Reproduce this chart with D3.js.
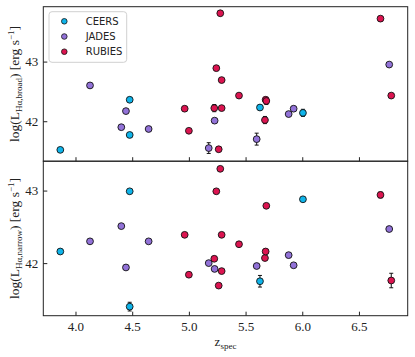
<!DOCTYPE html>
<html>
<head>
<meta charset="utf-8">
<script src="https://cdn.jsdelivr.net/npm/d3@7"></script>
<style>
  body { margin: 0; background: #fff; }
  .tick text { font-family: "Liberation Serif", serif; font-size: 13px; fill: #222; }
  .tick line { stroke: #222; }
</style>
</head>
<body>
<div id="my_dataviz"></div>
<script>
// données (z spectroscopique et log L_Halpha)
const surveys = ["CEERS", "JADES", "RUBIES"];
const colors = ["#0fb4ea", "#9272d8", "#dc1450"];

const ceersZ = [3.866, 4.478, 4.478, 5.627, 6.006];
const ceersBroad = [41.52, 42.36, 41.77, 42.23, 42.14];
const ceersBroadErr = [0.02, 0.03, 0.03, 0.04, 0.06];
const ceersNarrow = [42.16, 42.99, 41.40, 41.75, 42.88];
const ceersNarrowErr = [0.02, 0.02, 0.06, 0.08, 0.02];

const jadesZ = [4.128, 4.404, 4.445, 4.645, 5.175, 5.227, 5.598, 5.880, 5.924, 6.767];
const jadesBroad = [42.60, 41.90, 42.17, 41.87, 41.55, 42.01, 41.70, 42.12, 42.21, 42.95];
const jadesBroadErr = [0.02, 0.02, 0.02, 0.02, 0.09, 0.03, 0.10, 0.02, 0.02, 0.02];
const jadesNarrow = [42.30, 42.51, 41.94, 42.30, 42.00, 41.92, 41.96, 42.11, 41.97, 42.47];
const jadesNarrowErr = [0.02, 0.02, 0.02, 0.02, 0.02, 0.03, 0.02, 0.02, 0.02, 0.02];

const rubiesZ = [4.963, 5.000, 5.224, 5.242, 5.263, 5.277, 5.289, 5.289, 5.442, 5.671, 5.677, 5.683, 6.690, 6.785];
const rubiesBroad = [42.21, 41.84, 42.22, 42.89, 41.53, 43.81, 42.69, 42.22, 42.43, 42.02, 42.36, 42.34, 43.72, 42.43];
const rubiesBroadErr = [0.02, 0.02, 0.06, 0.02, 0.03, 0.02, 0.02, 0.02, 0.02, 0.06, 0.04, 0.06, 0.02, 0.02];
const rubiesNarrow = [42.39, 41.84, 42.06, 42.99, 41.69, 43.30, 42.39, 41.89, 42.26, 42.07, 42.16, 42.79, 42.94, 41.76];
const rubiesNarrowErr = [0.02, 0.02, 0.02, 0.02, 0.02, 0.02, 0.02, 0.02, 0.02, 0.02, 0.02, 0.02, 0.04, 0.10];

const xTicks = [4.0, 4.5, 5.0, 5.5, 6.0, 6.5];
const yTicks = [42, 43];

const margin = {top: 6.7, right: 7.3, bottom: 41.3, left: 43.3},
    width = 415 - margin.left - margin.right,
    panelH = (357 - margin.top - margin.bottom) / 2;

const x = d3.scaleLinear().domain([3.716, 6.93]).range([0, width]);
const yTop = d3.scaleLinear().domain([41.33, 43.92]).range([panelH, 0]);
const yBot = d3.scaleLinear().domain([41.275, 43.405]).range([panelH, 0]);

const svg = d3.select('#my_dataviz').append("svg")
    .attr("width", 415)
    .attr("height", 357)
    .append("g")
    .attr("transform", "translate(" + margin.left + "," + margin.top + ")");

// on regroupe les points par relevé
function rows(z, b, be, n, ne, s) {
  return z.map((d, i) => ({z: d, broad: b[i], broadErr: be[i], narrow: n[i], narrowErr: ne[i], s: s}));
}
const all = [].concat(
  rows(ceersZ, ceersBroad, ceersBroadErr, ceersNarrow, ceersNarrowErr, 0),
  rows(jadesZ, jadesBroad, jadesBroadErr, jadesNarrow, jadesNarrowErr, 1),
  rows(rubiesZ, rubiesBroad, rubiesBroadErr, rubiesNarrow, rubiesNarrowErr, 2)
);

function panel(offset, y, key, showLabels, label) {
  const g = svg.append("g").attr("transform", "translate(0," + offset + ")");

  g.append("g")
      .attr("transform", "translate(0," + panelH + ")")
      .call(d3.axisBottom(x).tickValues(xTicks).tickSize(-4).tickPadding(6)
        .tickFormat(showLabels ? d3.format(".1f") : ""))
      .call(a => a.select(".domain").remove());

  g.append("g")
      .call(d3.axisLeft(y).tickValues(yTicks).tickSize(-4).tickPadding(5)
        .tickFormat(d3.format("d")))
      .call(a => a.select(".domain").remove());

  // barres d'erreur
  const eb = g.append("g").selectAll("g").data(all).enter().append("g")
      .attr("stroke", "#111").attr("stroke-width", 1);
  eb.append("line")
      .attr("x1", d => x(d.z)).attr("x2", d => x(d.z))
      .attr("y1", d => y(d[key] - d[key + "Err"])).attr("y2", d => y(d[key] + d[key + "Err"]));
  eb.append("line")
      .attr("x1", d => x(d.z) - 2).attr("x2", d => x(d.z) + 2)
      .attr("y1", d => y(d[key] - d[key + "Err"])).attr("y2", d => y(d[key] - d[key + "Err"]));
  eb.append("line")
      .attr("x1", d => x(d.z) - 2).attr("x2", d => x(d.z) + 2)
      .attr("y1", d => y(d[key] + d[key + "Err"])).attr("y2", d => y(d[key] + d[key + "Err"]));

  g.append("g").selectAll("circle").data(all).enter().append("circle")
      .attr("cx", d => x(d.z))
      .attr("cy", d => y(d[key]))
      .attr("r", 3.4)
      .attr("fill", d => colors[d.s])
      .attr("stroke", "#111")
      .attr("stroke-width", 0.9);

  g.append("rect")
      .attr("width", width).attr("height", panelH)
      .attr("fill", "none").attr("stroke", "#222").attr("stroke-width", 1);

  // titre de l'axe y
  const t = g.append("text")
      .attr("transform", "translate(" + (-24.5) + "," + (panelH / 2) + ") rotate(-90)")
      .attr("text-anchor", "middle")
      .style("font-family", "Liberation Serif, serif")
      .style("font-size", "13.5px")
      .attr("fill", "#222");
  t.append("tspan").text("log(L");
  t.append("tspan").attr("dy", 3).style("font-size", "9px").text("H\u03b1," + label);
  t.append("tspan").attr("dy", -3).text(") [erg s");
  t.append("tspan").attr("dy", -5).style("font-size", "9px").text("\u22121");
  t.append("tspan").attr("dy", 5).text("]");
  return g;
}

panel(0, yTop, "broad", false, "broad");
panel(panelH, yBot, "narrow", true, "narrow");

// titre de l'axe x
const xl = svg.append("text")
    .attr("x", width / 2)
    .attr("y", 2 * panelH + 30)
    .attr("text-anchor", "middle")
    .style("font-family", "Liberation Serif, serif")
    .style("font-size", "13px")
    .attr("fill", "#222");
xl.append("tspan").text("z");
xl.append("tspan").attr("dy", 3).style("font-size", "9px").text("spec");

// légende
const leg = svg.append("g").attr("transform", "translate(5.7,5)");
leg.append("rect")
    .attr("width", 77.7).attr("height", 50.6).attr("rx", 3)
    .attr("fill", "#fff").attr("stroke", "#d0d0d0").attr("stroke-width", 1);
surveys.forEach((s, i) => {
  leg.append("circle")
      .attr("cx", 15.3).attr("cy", 9.6 + i * 15.2).attr("r", 2.8)
      .attr("fill", colors[i]).attr("stroke", "#111").attr("stroke-width", 0.8);
  leg.append("text")
      .attr("x", 36.7).attr("y", 9.6 + i * 15.2).attr("dy", "0.35em")
      .style("font-family", "DejaVu Sans, sans-serif")
      .style("font-size", "10px")
      .attr("fill", "#222")
      .text(s);
});
</script>
</body>
</html>
